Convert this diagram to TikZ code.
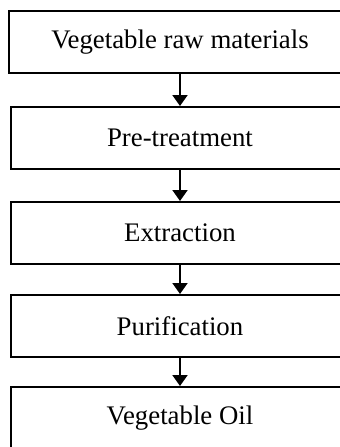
\documentclass[tikz,border=0pt]{standalone}
\usepackage{fontspec}
\setmainfont{Liberation Serif}
\usepackage{tikz}
\usetikzlibrary{arrows.meta}

\begin{document}
\begin{tikzpicture}[x=0.5pt, y=-0.5pt,
    stage/.style={draw=black, line width=1pt, minimum width=169pt, minimum height=31pt,
        inner sep=0pt, font=\fontsize{13.4}{15}\selectfont},
    flow/.style={line width=1pt, -{Triangle[width=7.5pt, length=5.5pt]}}]
    \useasboundingbox (0,0) rectangle (340,447);
    \clip (0,0) rectangle (340,447);
    \node[stage, minimum width=171pt] (raw) at (180,41.7) {Vegetable raw materials};
    \node[stage] (pre) at (180,138) {Pre-treatment};
    \node[stage] (ext) at (180,233) {Extraction};
    \node[stage] (pur) at (180,326) {Purification};
    \node[stage] (oil) at (180,418) {Vegetable Oil};
    \draw[flow] (raw) -- (pre);
    \draw[flow] (pre) -- (ext);
    \draw[flow] (ext) -- (pur);
    \draw[flow] (pur) -- (oil);
  \end{tikzpicture}
\end{document}
